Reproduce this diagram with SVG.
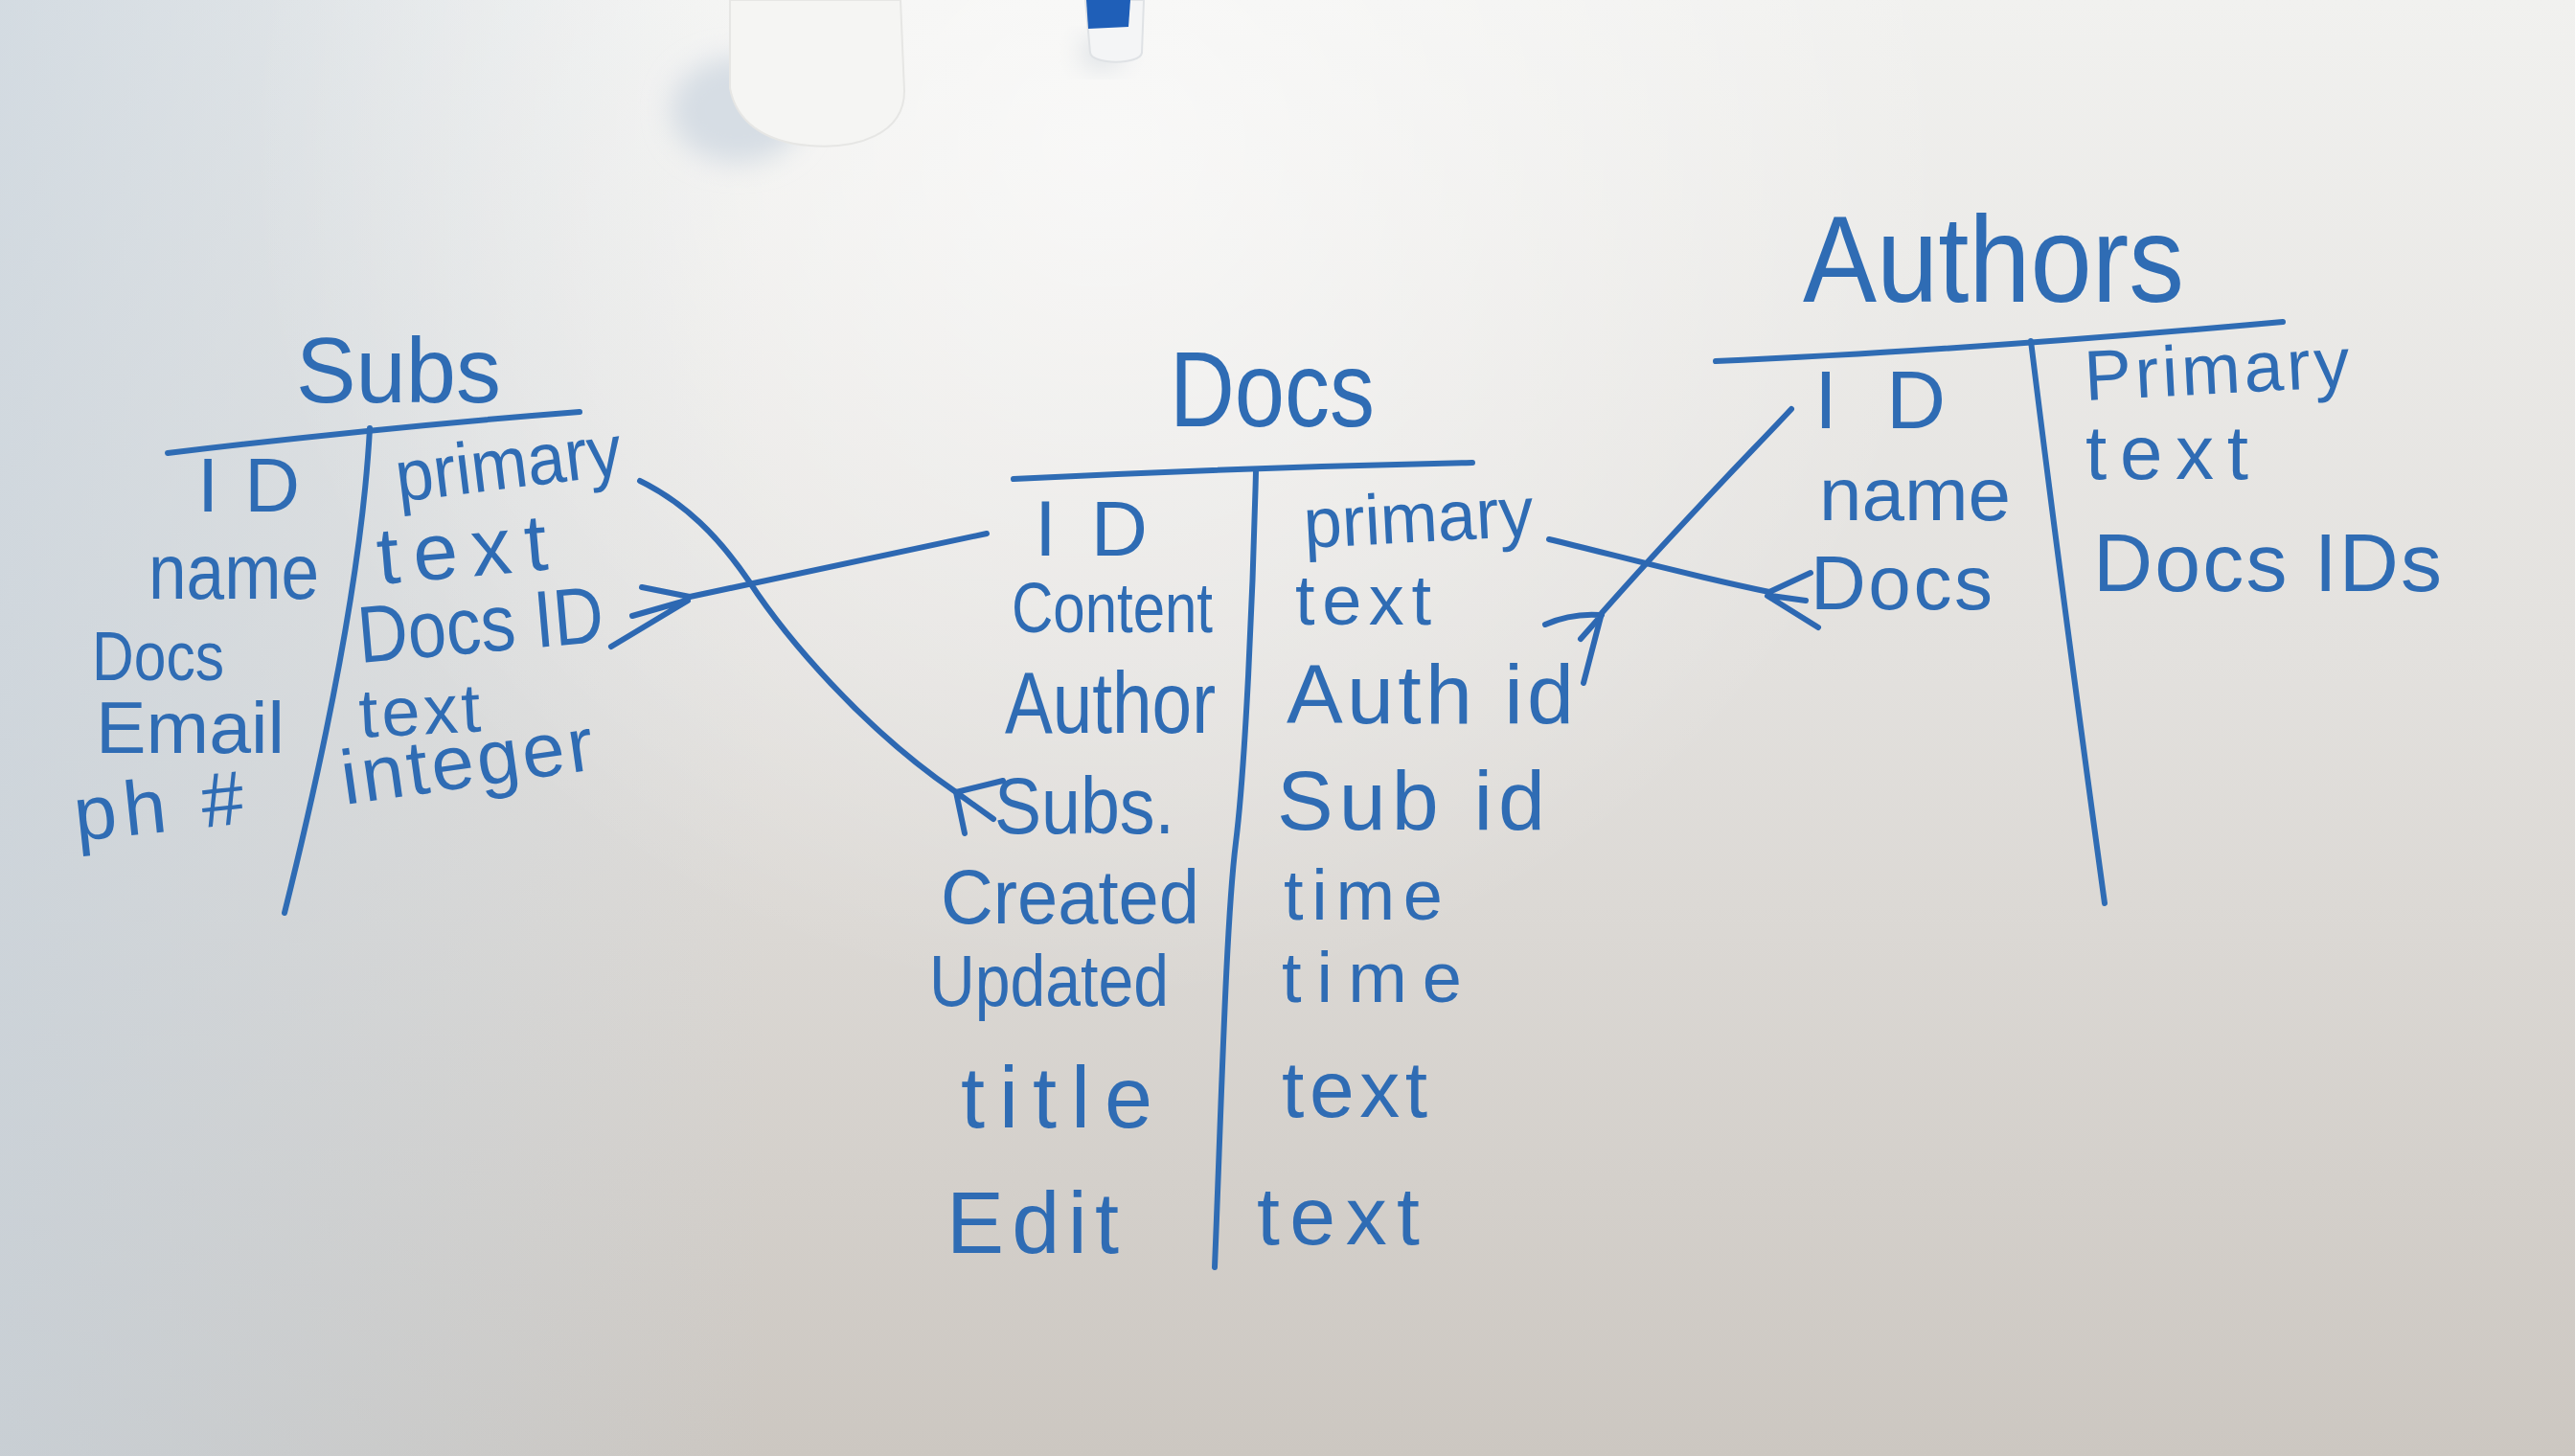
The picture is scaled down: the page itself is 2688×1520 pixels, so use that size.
<svg xmlns="http://www.w3.org/2000/svg" width="2688" height="1520" viewBox="0 0 2688 1520">
  <defs>
    <linearGradient id="bg" x1="0" y1="0" x2="0" y2="1">
      <stop offset="0" stop-color="#f1f1ef"/>
      <stop offset="0.45" stop-color="#e3e1de"/>
      <stop offset="1" stop-color="#ccc7c1"/>
    </linearGradient>
    <linearGradient id="leftTint" x1="0" y1="0" x2="1" y2="0">
      <stop offset="0" stop-color="#c7d2dc" stop-opacity="0.7"/>
      <stop offset="1" stop-color="#c7d2dc" stop-opacity="0"/>
    </linearGradient>
    <radialGradient id="glow" cx="1150" cy="150" r="900" gradientUnits="userSpaceOnUse">
      <stop offset="0" stop-color="#ffffff" stop-opacity="0.6"/>
      <stop offset="1" stop-color="#ffffff" stop-opacity="0"/>
    </radialGradient>
    <filter id="soft" x="-50%" y="-50%" width="200%" height="200%">
      <feGaussianBlur stdDeviation="14"/>
    </filter>
    <style>
      .ink { fill: none; stroke: #2f6cb4; stroke-width: 6; stroke-linecap: round; stroke-linejoin: round; }
      .conn { fill: none; stroke: #2d68b2; stroke-width: 6; stroke-linecap: round; stroke-linejoin: round; }
      .t { font-family: "Liberation Sans", Arial, sans-serif; fill: #2f6cb4; }
      .title { font-family: "Liberation Sans", Arial, sans-serif; fill: #2f6cb4; }
    </style>
  </defs>

  <!-- whiteboard background -->
  <rect x="0" y="0" width="2688" height="1520" fill="url(#bg)"/>
  <rect x="0" y="0" width="800" height="1520" fill="url(#leftTint)"/>
  <rect x="0" y="0" width="2688" height="1520" fill="url(#glow)"/>

  <!-- objects on the board: cup and marker -->
  <g id="cup">
    <ellipse cx="770" cy="115" rx="70" ry="55" fill="#d6dde4" filter="url(#soft)"/>
    <path d="M762 0 L940 0 L944 95 C944 140 895 156 845 152 C795 148 768 125 762 92 Z" fill="#f5f5f3" stroke="#e6e6e4" stroke-width="2"/>
  </g>
  <g id="marker">
    <ellipse cx="1150" cy="55" rx="22" ry="14" fill="#d8dde2" filter="url(#soft)"/>
    <path d="M1133 0 L1194 0 L1192 55 C1190 68 1140 68 1138 55 Z" fill="#f4f5f6" stroke="#dfe2e5" stroke-width="2"/>
    <path d="M1134 0 L1180 0 L1178 28 L1136 30 Z" fill="#1f5fb8"/>
  </g>

  <!-- Subs table -->
  <g id="subs">
    <text class="title" x="309" y="420" font-size="96" textLength="214" lengthAdjust="spacingAndGlyphs">Subs</text>
    <path class="ink" d="M175 473 Q400 446 605 430"/>
    <path class="ink" d="M386 447 C380 560 355 720 297 953"/>
    <text class="t" x="206" y="534" font-size="80" textLength="107" lengthAdjust="spacing">ID</text>
    <text class="t" x="155" y="625" font-size="82" textLength="178" lengthAdjust="spacingAndGlyphs">name</text>
    <text class="t" x="96" y="710" font-size="72" textLength="138" lengthAdjust="spacingAndGlyphs">Docs</text>
    <text class="t" x="100" y="786" font-size="76" textLength="197" lengthAdjust="spacingAndGlyphs">Email</text>
    <text class="t" x="80" y="878" font-size="80" textLength="178" lengthAdjust="spacing" transform="rotate(-6 80 878)">ph #</text>
    <text class="t" x="416" y="524" font-size="76" textLength="237" lengthAdjust="spacingAndGlyphs" transform="rotate(-7 416 524)">primary</text>
    <text class="t" x="396" y="610" font-size="84" textLength="178" lengthAdjust="spacing" transform="rotate(-5 396 610)">text</text>
    <text class="t" x="376" y="692" font-size="84" textLength="257" lengthAdjust="spacingAndGlyphs" transform="rotate(-5 376 692)">Docs ID</text>
    <text class="t" x="376" y="770" font-size="72" textLength="127" lengthAdjust="spacing" transform="rotate(-3 376 770)">text</text>
    <text class="t" x="360" y="840" font-size="80" textLength="265" lengthAdjust="spacing" transform="rotate(-8 360 840)">integer</text>
  </g>

  <!-- Docs table -->
  <g id="docs">
    <text class="title" x="1221" y="445" font-size="112" textLength="214" lengthAdjust="spacingAndGlyphs">Docs</text>
    <path class="ink" d="M1058 500 Q1300 488 1537 483"/>
    <path class="ink" d="M1311 492 C1308 620 1300 800 1290 880 S1275 1150 1268 1323"/>
    <text class="t" x="1080" y="580" font-size="82" textLength="118" lengthAdjust="spacing">ID</text>
    <text class="t" x="1056" y="660" font-size="74" textLength="210" lengthAdjust="spacingAndGlyphs">Content</text>
    <text class="t" x="1049" y="765" font-size="90" textLength="220" lengthAdjust="spacingAndGlyphs">Author</text>
    <text class="t" x="1038" y="870" font-size="84" textLength="188" lengthAdjust="spacingAndGlyphs">Subs.</text>
    <text class="t" x="982" y="964" font-size="80" textLength="270" lengthAdjust="spacingAndGlyphs">Created</text>
    <text class="t" x="970" y="1050" font-size="76" textLength="250" lengthAdjust="spacingAndGlyphs">Updated</text>
    <text class="t" x="1003" y="1177" font-size="90" textLength="200" lengthAdjust="spacing">title</text>
    <text class="t" x="988" y="1308" font-size="90" textLength="180" lengthAdjust="spacing">Edit</text>
    <text class="t" x="1362" y="572" font-size="74" textLength="240" lengthAdjust="spacingAndGlyphs" transform="rotate(-3 1362 572)">primary</text>
    <text class="t" x="1352" y="652" font-size="74" textLength="142" lengthAdjust="spacing">text</text>
    <text class="t" x="1343" y="755" font-size="88" textLength="300" lengthAdjust="spacing">Auth id</text>
    <text class="t" x="1333" y="866" font-size="88" textLength="280" lengthAdjust="spacing">Sub id</text>
    <text class="t" x="1340" y="960" font-size="74" textLength="166" lengthAdjust="spacing">time</text>
    <text class="t" x="1338" y="1046" font-size="74" textLength="188" lengthAdjust="spacing">time</text>
    <text class="t" x="1338" y="1166" font-size="84" textLength="152" lengthAdjust="spacing">text</text>
    <text class="t" x="1312" y="1299" font-size="86" textLength="170" lengthAdjust="spacing">text</text>
  </g>

  <!-- Authors table -->
  <g id="authors">
    <text class="title" x="1882" y="315" font-size="128" textLength="398" lengthAdjust="spacingAndGlyphs">Authors</text>
    <path class="ink" d="M1791 377 Q2050 366 2383 336"/>
    <path class="ink" d="M2120 356 Q2150 600 2197 943"/>
    <text class="t" x="1894" y="447" font-size="86" textLength="137" lengthAdjust="spacing">ID</text>
    <text class="t" x="1899" y="543" font-size="78" textLength="200" lengthAdjust="spacingAndGlyphs">name</text>
    <text class="t" x="1890" y="636" font-size="80" textLength="190" lengthAdjust="spacing">Docs</text>
    <text class="t" x="2177" y="418" font-size="74" textLength="277" lengthAdjust="spacing" transform="rotate(-3 2177 418)">Primary</text>
    <text class="t" x="2177" y="500" font-size="80" textLength="170" lengthAdjust="spacing">text</text>
    <text class="t" x="2185" y="617" font-size="86" textLength="364" lengthAdjust="spacing">Docs IDs</text>
  </g>

  <!-- Connectors -->
  <g id="connectors">
    <!-- Subs.primary to Docs.Subs (crow's foot at Docs) -->
    <path class="conn" d="M668 502 C715 525 750 560 782 607 C820 665 900 760 998 827"/>
    <path class="conn" d="M998 827 L1047 815 M998 827 L1037 855 M998 827 L1007 870"/>
    <!-- Docs.ID to Subs.Docs ID (crow's foot at Subs) -->
    <path class="conn" d="M1030 557 L720 623"/>
    <path class="conn" d="M720 623 L670 613 M716 627 L660 643 M718 627 L638 675"/>
    <!-- Docs.primary to Authors.Docs (crow's foot at Authors) -->
    <path class="conn" d="M1617 563 C1680 578 1760 600 1847 618"/>
    <path class="conn" d="M1847 618 L1890 598 M1849 622 L1885 627 M1845 622 L1898 655"/>
    <!-- Authors.ID to Docs.Auth id (crow's foot at Docs) -->
    <path class="conn" d="M1870 427 C1830 470 1760 540 1672 640 L1653 713"/>
    <path class="conn" d="M1670 642 Q1640 640 1613 652 M1672 642 L1650 667"/>
  </g>
</svg>
